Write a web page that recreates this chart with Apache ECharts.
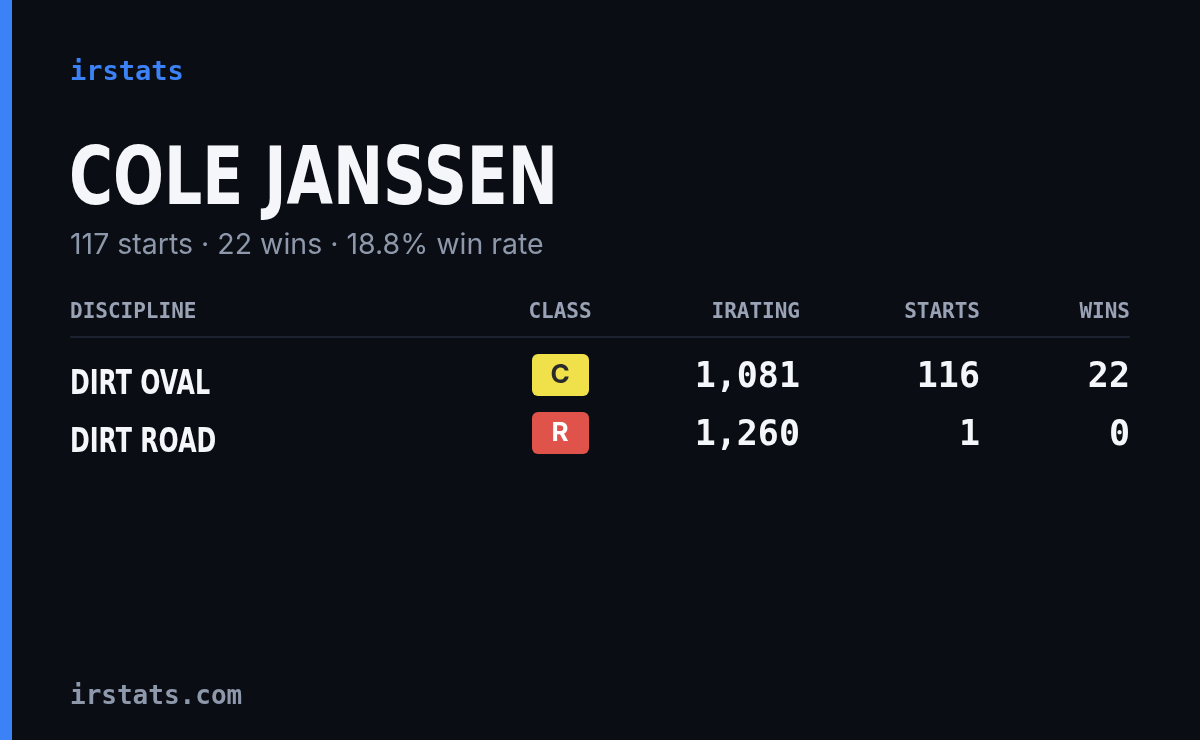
<!DOCTYPE html>
<html>
<head>
<meta charset="utf-8">
<script src="https://cdn.jsdelivr.net/npm/echarts@6/dist/echarts.min.js"></script>
<style>
html,body{margin:0;padding:0;background:#0a0d14;}
#card{width:1200px;height:740px;}
</style>
</head>
<body>
<div id="card"></div>
<script>
var brand = 'irstats';
var driver = 'COLE JANSSEN';
var summary = '117 starts · 22 wins · 18.8% win rate';
var footer = 'irstats.com';
var headers = ['DISCIPLINE', 'CLASS', 'IRATING', 'STARTS', 'WINS'];
var disciplines = ['DIRT OVAL', 'DIRT ROAD'];
var classes = ['C', 'R'];
var classColors = ['#f0e04a', '#e0534b'];
var classText = ['#2a2a2a', '#ffffff'];
var iratings = [1081, 1260];
var starts = [116, 1];
var wins = [22, 0];

var mono = '"DejaVu Sans Mono", "Liberation Mono", monospace';
var narrow = '"DejaVu Sans", sans-serif';
var sans = '"Inter", "Noto Sans", sans-serif';

var myChart = echarts.init(document.getElementById('card'));

//列位置
var colX = [70, 560, 800, 980, 1130];
var colAlign = ['left', 'center', 'right', 'right', 'right'];
var rowY = [383, 441];

var els = [
	{type: 'rect', shape: {x: 0, y: 0, width: 12, height: 740}, style: {fill: '#3b82f6'}},
	{type: 'text', x: 70, y: 73, style: {text: brand, font: 'bold 27px ' + mono, fill: '#3b82f6', verticalAlign: 'middle'}},
	{type: 'text', x: 69, y: 183, scaleX: 0.75, style: {text: driver, font: 'bold 80px ' + narrow, fill: '#f4f6fa', verticalAlign: 'middle'}},
	{type: 'text', x: 70, y: 245, style: {text: summary, font: '28.5px ' + sans, fill: '#8e98ab', verticalAlign: 'middle'}},
	{type: 'line', shape: {x1: 70, y1: 337, x2: 1130, y2: 337}, style: {stroke: '#1d2230', lineWidth: 2}},
	{type: 'text', x: 70, y: 697, style: {text: footer, font: 'bold 26px ' + mono, fill: '#8e98ab', verticalAlign: 'middle'}}
];

for (var h = 0; h < headers.length; h++) {
	els.push({type: 'text', x: colX[h], y: 313, style: {
		text: headers[h], font: 'bold 21px ' + mono, fill: '#9aa3b5',
		align: colAlign[h], verticalAlign: 'middle'
	}});
}

for (var i = 0; i < disciplines.length; i++) {
	var y = rowY[i];
	els.push({type: 'text', x: 70, y: y + 2, scaleX: 0.72, style: {text: disciplines[i], font: 'bold 33px ' + narrow, fill: '#f4f6fa', verticalAlign: 'middle'}});
	els.push({type: 'rect', shape: {x: 532, y: y - 29, width: 57, height: 42, r: 6}, style: {fill: classColors[i]}});
	els.push({type: 'text', x: 560, y: y - 8, style: {text: classes[i], font: 'bold 26px ' + sans, fill: classText[i], align: 'center', verticalAlign: 'middle'}});
	var vals = [iratings[i].toLocaleString('en-US'), String(starts[i]), String(wins[i])];
	for (var k = 0; k < vals.length; k++) {
		els.push({type: 'text', x: colX[k + 2], y: y - 5, style: {
			text: vals[k], font: 'bold 35px ' + mono, fill: '#f4f6fa',
			align: 'right', verticalAlign: 'middle'
		}});
	}
}

myChart.setOption({
	backgroundColor: '#0a0d14',
	animation: false,
	graphic: els
});
</script>
</body>
</html>
